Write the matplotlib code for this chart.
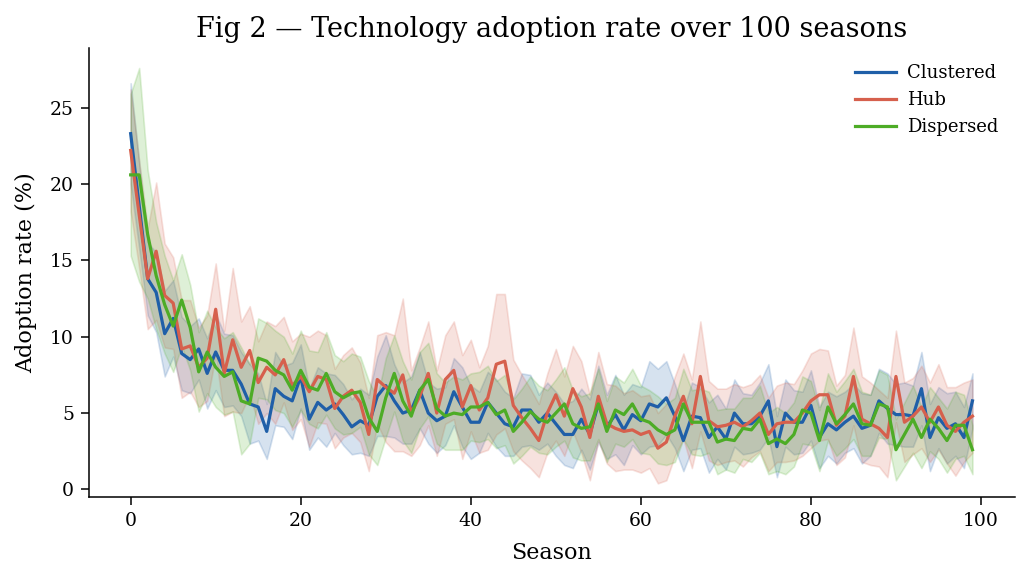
import numpy as np
import matplotlib
matplotlib.use("Agg")
import matplotlib.pyplot as plt

plt.rcParams['font.family'] = ['DejaVu Serif']

seasons = list(range(100))

clustered = [23.3, 18.6, 13.8, 12.9, 10.2, 11.2, 8.9, 8.5, 9.2, 7.6,
             9.0, 7.8, 7.8, 6.9, 5.6, 5.4, 3.8, 6.6, 6.1, 5.8,
             7.4, 4.6, 5.7, 5.2, 5.6, 4.9, 4.1, 4.5, 4.2, 6.1,
             6.8, 5.8, 5.0, 5.2, 6.5, 5.0, 4.5, 4.8, 6.4, 5.4,
             4.4, 4.4, 5.7, 5.0, 4.3, 4.1, 5.2, 5.2, 4.4, 5.0,
             4.3, 3.6, 3.6, 4.6, 3.6, 5.6, 4.1, 4.9, 3.9, 4.9,
             4.5, 5.6, 5.4, 6.0, 4.8, 3.2, 4.8, 4.7, 3.4, 4.1,
             3.3, 5.0, 4.3, 4.3, 4.8, 5.8, 2.8, 5.0, 4.4, 4.4,
             5.5, 3.4, 4.3, 3.9, 4.4, 4.8, 4.0, 4.2, 5.8, 5.3,
             4.9, 4.9, 4.8, 6.6, 3.4, 4.7, 4.0, 4.3, 3.4, 5.8]

hub = [22.2, 18.0, 13.8, 15.6, 12.7, 12.2, 9.2, 9.4, 8.0, 8.6,
       11.8, 7.6, 9.8, 8.0, 9.1, 7.0, 8.0, 7.5, 8.5, 6.8,
       7.4, 6.4, 7.4, 7.2, 5.3, 6.1, 6.5, 5.7, 3.6, 7.2,
       6.7, 6.3, 7.5, 5.0, 6.1, 7.6, 5.0, 7.2, 7.8, 5.4,
       6.8, 5.2, 6.0, 8.2, 8.4, 5.5, 4.7, 4.0, 3.2, 5.0,
       6.2, 4.8, 6.6, 5.4, 3.4, 6.1, 4.3, 4.0, 3.8, 3.9,
       3.6, 3.8, 2.7, 3.1, 4.8, 6.1, 4.3, 7.4, 4.5, 4.1,
       4.2, 4.4, 4.1, 4.5, 5.0, 3.6, 4.3, 4.4, 4.4, 5.0,
       5.8, 6.2, 6.2, 4.2, 4.8, 7.4, 4.6, 4.3, 4.0, 3.4,
       7.4, 4.4, 4.8, 5.4, 4.4, 5.4, 4.2, 3.8, 4.4, 4.8]

dispersed = [20.6, 20.6, 16.7, 14.0, 12.1, 10.7, 12.4, 10.6, 7.7, 9.0,
             8.0, 7.4, 7.7, 5.8, 5.6, 8.6, 8.4, 7.8, 7.5, 6.5,
             7.8, 6.7, 6.5, 7.6, 6.4, 6.0, 6.3, 6.4, 4.7, 3.8,
             6.0, 7.6, 5.8, 4.8, 6.5, 7.2, 5.3, 4.8, 5.0, 4.9,
             5.4, 5.4, 5.7, 4.9, 5.2, 3.8, 4.4, 5.1, 4.6, 4.4,
             5.0, 5.6, 4.3, 4.0, 4.1, 5.6, 3.8, 5.2, 4.9, 5.6,
             4.6, 4.4, 3.9, 3.6, 3.9, 5.6, 4.4, 4.4, 4.4, 3.1,
             3.3, 3.2, 4.0, 3.9, 4.6, 3.0, 3.3, 3.0, 3.6, 5.2,
             5.0, 3.2, 5.4, 4.3, 4.9, 5.6, 4.3, 4.2, 5.6, 5.4,
             2.6, 3.6, 4.6, 3.4, 4.6, 4.0, 3.2, 4.2, 4.2, 2.6]

clustered_hw = [3.3, 2.8, 2.4, 2.6, 2.8, 2.5, 2.4, 2.2, 2.0, 2.3,
                2.5, 2.4, 2.3, 2.1, 2.6, 2.2, 1.8, 2.4, 2.0, 2.5,
                2.1, 2.0, 2.3, 2.4, 1.9, 2.0, 1.8, 2.1, 2.0, 2.6,
                3.3, 2.4, 2.0, 2.2, 2.5, 2.0, 2.1, 1.9, 2.2, 2.6,
                2.4, 2.0, 2.0, 2.2, 2.1, 1.9, 2.4, 2.3, 1.8, 2.0,
                2.1, 2.0, 2.2, 2.0, 2.3, 2.5, 2.1, 2.6, 2.3, 2.0,
                2.2, 2.8, 2.5, 2.4, 2.1, 2.0, 2.2, 2.0, 2.3, 2.1,
                2.0, 2.2, 2.0, 1.9, 2.2, 2.4, 2.0, 2.2, 2.1, 2.0,
                2.3, 2.0, 2.1, 2.2, 2.0, 2.1, 2.3, 2.0, 2.1, 2.3,
                2.0, 2.1, 2.0, 2.4, 2.2, 2.0, 2.3, 2.1, 2.0, 1.8]

hub_hw = [4.0, 3.5, 3.3, 4.5, 3.4, 3.0, 3.2, 3.0, 2.6, 2.8,
          3.0, 2.8, 4.7, 3.0, 2.9, 2.7, 3.0, 3.2, 2.8, 2.9,
          2.8, 3.6, 3.0, 2.9, 2.6, 2.7, 2.8, 2.6, 2.4, 2.9,
          3.6, 3.8, 5.0, 2.8, 3.2, 3.4, 2.8, 2.9, 3.2, 3.4,
          3.0, 2.8, 3.4, 4.6, 4.4, 3.0, 2.8, 2.6, 2.4, 2.6,
          3.0, 2.6, 2.8, 3.0, 2.8, 2.9, 2.6, 2.8, 2.5, 2.6,
          2.5, 2.4, 2.3, 2.5, 2.6, 2.8, 2.9, 3.6, 2.6, 2.5,
          2.4, 2.5, 2.6, 2.4, 2.5, 2.4, 2.5, 2.6, 2.5, 2.8,
          3.1, 3.0, 2.9, 2.6, 2.7, 3.2, 2.8, 2.7, 2.5, 2.6,
          3.0, 2.6, 2.5, 2.7, 2.6, 2.8, 2.5, 2.9, 2.6, 2.4]

dispersed_hw = [5.3, 7.0, 4.2, 3.5, 3.2, 3.0, 3.0, 2.8, 2.6, 2.7,
                2.6, 2.5, 2.6, 3.5, 2.6, 2.6, 2.5, 2.6, 2.5, 2.4,
                2.6, 2.4, 2.5, 2.7, 2.4, 2.4, 2.6, 2.3, 2.4, 2.2,
                2.6, 2.5, 2.6, 2.4, 2.5, 2.4, 2.3, 2.2, 2.4, 2.3,
                2.2, 2.3, 2.4, 2.2, 2.3, 2.1, 2.2, 2.3, 2.2, 2.1,
                2.2, 2.4, 2.2, 2.1, 2.2, 2.3, 2.0, 2.2, 2.1, 2.3,
                2.2, 2.1, 2.2, 2.0, 2.1, 2.3, 2.1, 2.2, 2.0, 2.1,
                2.0, 2.1, 2.0, 2.1, 2.2, 2.0, 2.1, 2.0, 2.1, 2.2,
                2.1, 2.0, 2.2, 2.1, 2.2, 2.3, 2.1, 2.0, 2.2, 2.1,
                2.0, 2.1, 2.2, 2.0, 2.1, 2.0, 2.1, 2.2, 2.0, 1.6]

names = ["Clustered", "Hub", "Dispersed"]
colors = ["#1f5fa8", "#d6604d", "#4dac26"]
means = [clustered, hub, dispersed]
hws = [clustered_hw, hub_hw, dispersed_hw]

fig = plt.figure(figsize=(10.3, 5.8), dpi=100)
ax = fig.add_axes([0.086, 0.143, 0.899, 0.774])

x = np.array(seasons)
for name, c, m, h in zip(names, colors, means, hws):
    m = np.array(m)
    h = np.array(h)
    ax.fill_between(x, m - h, m + h, color=c, alpha=0.18, linewidth=1.2)
for name, c, m in zip(names, colors, means):
    ax.plot(x, m, color=c, lw=2.3, label=name)

ax.set_xlim(-4.95, 103.95)
ax.set_ylim(-0.5, 28.9)
ax.set_xticks([0, 20, 40, 60, 80, 100])
ax.set_yticks([0, 5, 10, 15, 20, 25])
ax.tick_params(labelsize=13.5, width=1.1, length=5.5, pad=5)
for s in ['left', 'bottom']:
    ax.spines[s].set_linewidth(1.1)
ax.spines['top'].set_visible(False)
ax.spines['right'].set_visible(False)
ax.set_xlabel("Season", fontsize=16, labelpad=9)
ax.set_ylabel("Adoption rate (%)", fontsize=16, labelpad=9)
ax.set_title("Fig 2 \u2014 Technology adoption rate over 100 seasons", fontsize=19.5, pad=8)
ax.legend(loc="upper right", frameon=False, fontsize=13, handlelength=2.3,
          handletextpad=0.6, bbox_to_anchor=(1.0, 1.0))

fig.savefig("out.png", dpi=100)
